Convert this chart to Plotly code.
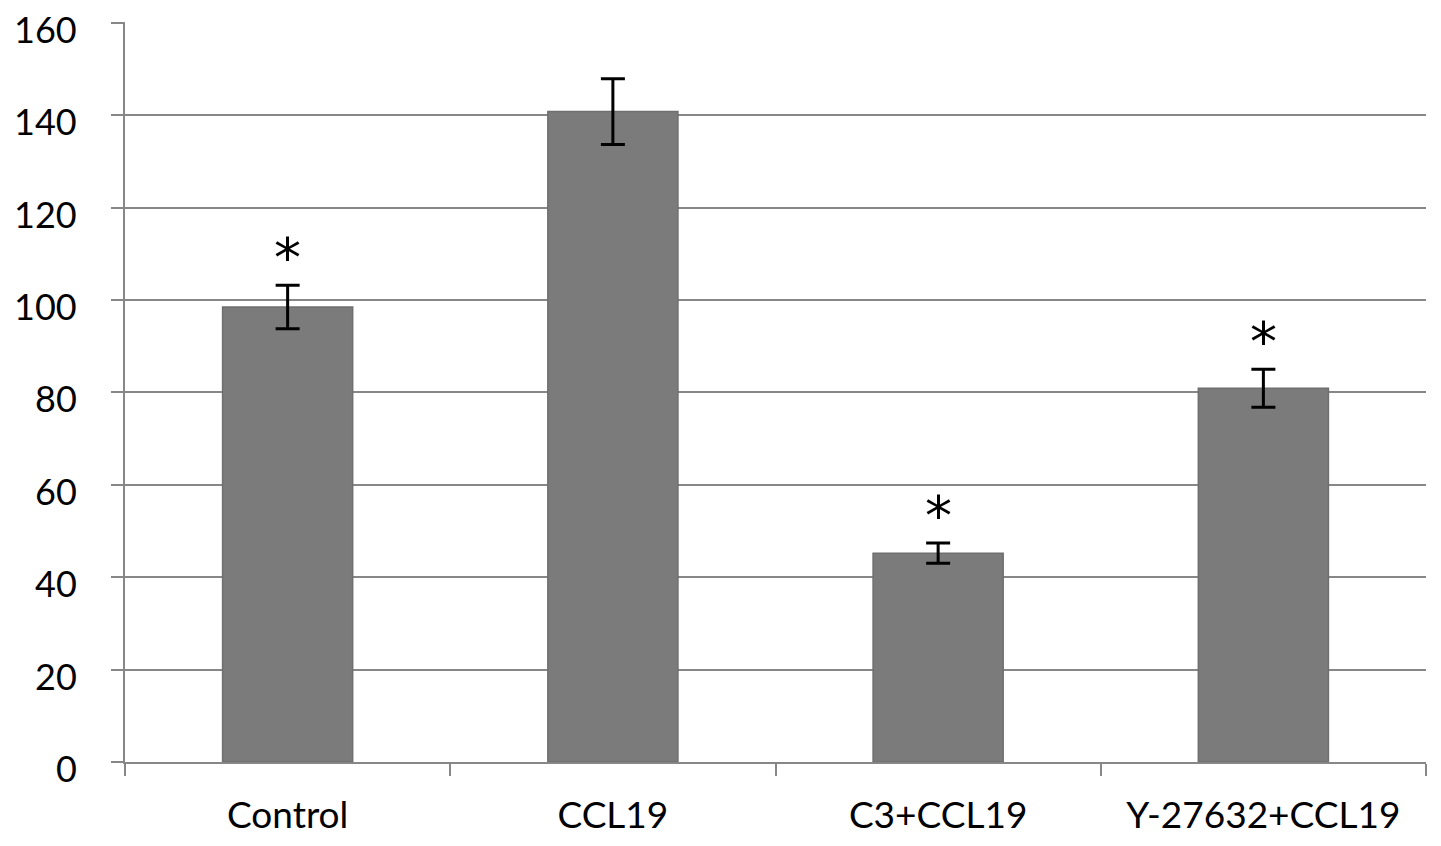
import plotly.graph_objects as go

categories = ["Control", "CCL19", "C3+CCL19", "Y-27632+CCL19"]
values = [98.5, 140.8, 45.2, 80.9]
errors = [4.7, 7.1, 2.2, 4.1]
significant = [True, False, True, True]
y_ticks = [0, 20, 40, 60, 80, 100, 120, 140, 160]

FONT = "Lato"
GRID = "#878787"

fig = go.Figure()
fig.add_trace(go.Bar(
    x=categories, y=values,
    width=0.4,
    marker=dict(color="#7b7b7b", line=dict(color="#6f6f6f", width=1.5)),
    error_y=dict(type="data", array=errors, visible=True,
                 color="black", thickness=3, width=12),
    hoverinfo="skip",
))

for c, v, e, s in zip(categories, values, errors, significant):
    if s:
        fig.add_annotation(x=c, y=v + e + 6.5, text="*", showarrow=False,
                           yanchor="middle", yshift=-2,
                           font=dict(family="DejaVu Sans", size=54, color="black"))

# y tick labels (Excel-style, sitting slightly below the gridline)
for t in y_ticks:
    fig.add_annotation(x=0, xref="paper", y=t, yref="y", text=str(t),
                       showarrow=False, xanchor="right", yanchor="middle",
                       xshift=-46, yshift=-6,
                       font=dict(family=FONT, size=36, color="black"))

# page body has an 8px default margin; size the figure to fit the window
fig.update_layout(
    width=1433, height=838,
    margin=dict(l=117, r=15, t=14, b=84, autoexpand=False),
    paper_bgcolor="white", plot_bgcolor="white",
    showlegend=False,
    font=dict(family=FONT, size=36, color="black"),
    bargap=0.6,
)
fig.update_xaxes(
    type="category", tickson="boundaries", automargin=False,
    ticks="outside", ticklen=12, tickwidth=2, tickcolor=GRID,
    showline=True, linecolor=GRID, linewidth=2,
    showgrid=False, ticklabelstandoff=20,
    tickfont=dict(family=FONT, size=37, color="black"),
)
fig.update_yaxes(
    range=[0, 160.2], tickvals=y_ticks, automargin=False,
    ticks="outside", ticklen=12, tickwidth=2, tickcolor=GRID,
    showline=True, linecolor=GRID, linewidth=2,
    showgrid=True, gridcolor=GRID, gridwidth=2,
    zeroline=False, showticklabels=False,
)

fig.write_html("out.html")
